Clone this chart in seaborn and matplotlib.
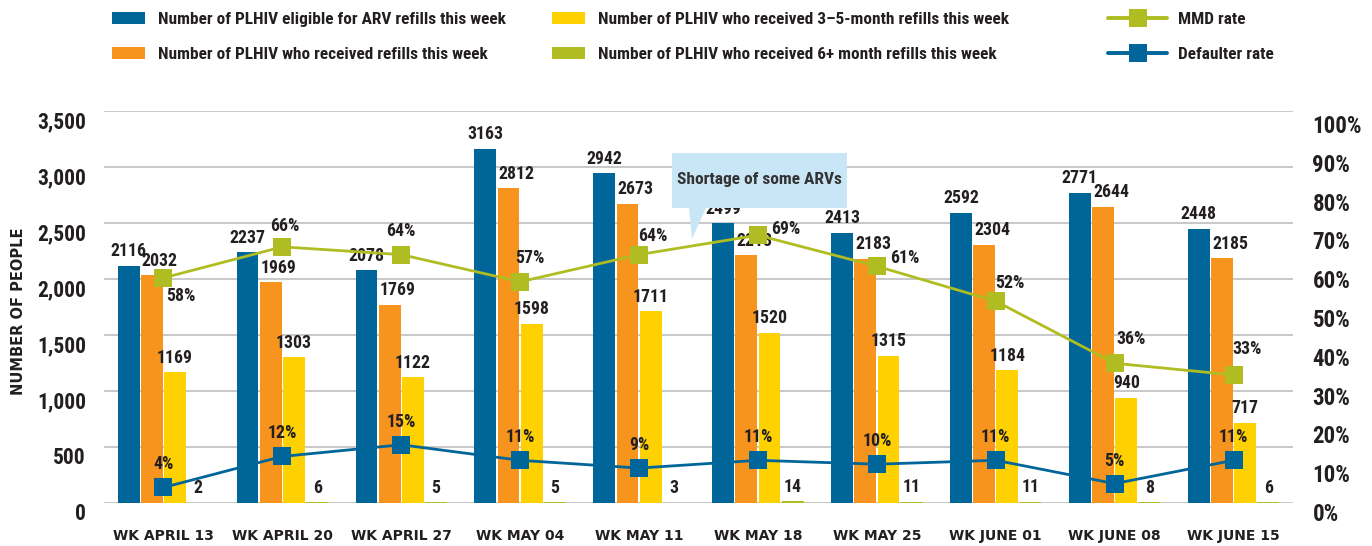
import numpy as np
import pandas as pd
import matplotlib
matplotlib.use("Agg")
import matplotlib.pyplot as plt
import seaborn as sns
from matplotlib import font_manager as fm
from matplotlib.patches import Patch, Polygon
from matplotlib.lines import Line2D

# ---------------- data ----------------
weeks = ["WK APRIL 13", "WK APRIL 20", "WK APRIL 27", "WK MAY 04", "WK MAY 11",
         "WK MAY 18", "WK MAY 25", "WK JUNE 01", "WK JUNE 08", "WK JUNE 15"]
eligible = [2116, 2237, 2078, 3163, 2942, 2499, 2413, 2592, 2771, 2448]
received = [2032, 1969, 1769, 2812, 2673, 2213, 2183, 2304, 2644, 2185]
refill_3_5 = [1169, 1303, 1122, 1598, 1711, 1520, 1315, 1184, 940, 717]
refill_6p = [2, 6, 5, 5, 3, 14, 11, 11, 8, 6]
mmd_rate = [58, 66, 64, 57, 64, 69, 61, 52, 36, 33]
defaulter_rate = [4, 12, 15, 11, 9, 11, 10, 11, 5, 11]
series_names = ["Number of PLHIV eligible for ARV refills this week",
                "Number of PLHIV who received refills this week",
                "Number of PLHIV who received 3\u20135-month refills this week",
                "Number of PLHIV who received 6+ month refills this week"]
line_names = ["MMD rate", "Defaulter rate"]
left_ticks = [0, 500, 1000, 1500, 2000, 2500, 3000, 3500]
right_ticks = [0, 10, 20, 30, 40, 50, 60, 70, 80, 90, 100]
callout_text = "Shortage of some ARVs"

# ---------------- style ----------------
BLUE = "#006699"
ORANGE = "#F7941D"
YELLOW = "#FFD100"
GREEN = "#AFBD22"
TXT = "#231F20"
GRID = "#C4C4C4"
CALLOUT = "#C9E6F7"

sns.set_style("white")
names = {f.name for f in fm.fontManager.ttflist}
if "Liberation Sans Narrow" in names:
    NARROW, K = "Liberation Sans Narrow", 1.0
elif "Roboto Condensed" in names:
    NARROW, K = "Roboto Condensed", 1.0
else:
    NARROW, K = "Liberation Sans", 0.85
WIDE = "DejaVu Sans"
plt.rcParams["font.family"] = [NARROW, "DejaVu Sans"]

W, H = 1372, 546
fig = plt.figure(figsize=(W / 100, H / 100), dpi=100)
ax = fig.add_axes([104 / W, 43 / H, 1189 / W, 392 / H])

df = pd.DataFrame({
    "week": weeks * 4,
    "series": np.repeat(series_names, len(weeks)),
    "value": eligible + received + refill_3_5 + refill_6p,
})
sns.barplot(data=df, x="week", y="value", hue="series", order=weeks,
            hue_order=series_names, palette=[BLUE, ORANGE, YELLOW, GREEN],
            width=0.78, gap=0.06, saturation=1, linewidth=0, legend=False, ax=ax)

label_dx_px = [0, 8, 0, 0]
for cont, dxp in zip(ax.containers, label_dx_px):
    texts = ax.bar_label(cont, fmt="%d", padding=4, fontsize=12.8 * K, fontweight="bold",
                         color=TXT, family=NARROW)
    for t in texts:
        t.xyann = (dxp * 0.72, t.xyann[1])

ax.set_xlim(-0.5, len(weeks) - 0.5)
ax.set_ylim(0, 3500)
ax.set_yticks(left_ticks)
ax.set_yticklabels([f"{v:,}" for v in left_ticks], fontsize=15.5 * K,
                   fontweight="bold", color=TXT, family=NARROW, va="top")
ax.set_xticks(range(len(weeks)))
ax.set_xticklabels(weeks, fontsize=10, fontweight="bold", color=TXT, family=WIDE)
ax.tick_params(axis="x", length=0, pad=19)
ax.tick_params(axis="y", length=0, pad=13)
ax.set_xlabel("")
ax.set_ylabel("NUMBER OF PEOPLE", fontsize=10.5, fontweight="bold", color=TXT, family=WIDE)
ax.yaxis.set_label_coords(-0.066, 0.49)
ax.set_axisbelow(True)
ax.yaxis.grid(True, color=GRID, linewidth=1.3)
ax.xaxis.grid(False)
for s in ax.spines.values():
    s.set_visible(False)

# ---------------- lines on right axis ----------------
ax2 = ax.twinx()
pos = np.arange(len(weeks))
sns.lineplot(x=pos, y=mmd_rate, ax=ax2, color=GREEN, linewidth=2.0, marker="s",
             markersize=12.5, markeredgewidth=0, zorder=3)
sns.lineplot(x=pos, y=defaulter_rate, ax=ax2, color=BLUE, linewidth=2.0, marker="s",
             markersize=12.5, markeredgewidth=0, zorder=3)
ax2.set_ylim(0.5, 101)
ax2.set_yticks(right_ticks)
ax2.set_yticklabels([f"{v}%" for v in right_ticks], fontsize=16.5 * K,
                    fontweight="bold", color=TXT, family=NARROW, va="top")
ax2.tick_params(axis="y", length=0, pad=14)
ax2.set_ylabel("")
for s in ax2.spines.values():
    s.set_visible(False)
ax2.grid(False)

mmd_label_offsets = [(17, -18), (2, 21), (0, 24), (10, 24), (14, 19),
                     (28, 6), (28, 8), (14, 18), (16, 24), (14, 26)]
for i, v in enumerate(mmd_rate):
    dx, dy = mmd_label_offsets[i]
    ax2.annotate(f"{v}%", (i, v), xytext=(dx * 0.72, dy * 0.72), textcoords="offset points",
                 ha="center", va="center", fontsize=12.8 * K, fontweight="bold", color=TXT,
                 family=NARROW, zorder=4)
for i, v in enumerate(defaulter_rate):
    ax2.annotate(f"{v}%", (i, v), xytext=(0, 23 * 0.72), textcoords="offset points",
                 ha="center", va="center", fontsize=12.8 * K, fontweight="bold", color=TXT,
                 family=NARROW, zorder=4)

# ---------------- callout ----------------
def fp(x, y):
    return (x / W, 1 - y / H)

verts = [fp(672, 153), fp(847, 153), fp(847, 208), fp(706, 208), fp(692, 239),
         fp(689, 208), fp(672, 208)]
fig.add_artist(Polygon(verts, closed=True, transform=fig.transFigure,
                       facecolor=CALLOUT, edgecolor="none", zorder=5))
fig.text(*fp(759, 180), callout_text, ha="center", va="center", fontsize=12.5 * K,
         fontweight="bold", color="#333333", family=NARROW, zorder=6)

# ---------------- legends ----------------
FS = 12.4 * K
fs_px = FS * 100 / 72
leg_kw = dict(loc="upper left", frameon=False, borderpad=0, borderaxespad=0,
              labelspacing=1.15, prop={"family": NARROW, "weight": "bold", "size": FS},
              labelcolor=TXT)
fig.legend([Patch(facecolor=BLUE, edgecolor="none"), Patch(facecolor=ORANGE, edgecolor="none")],
           series_names[:2], bbox_to_anchor=fp(112, 12), handlelength=33 / fs_px,
           handleheight=0.65, handletextpad=13 / fs_px, **leg_kw)
fig.legend([Patch(facecolor=YELLOW, edgecolor="none"), Patch(facecolor=GREEN, edgecolor="none")],
           series_names[2:], bbox_to_anchor=fp(552, 12), handlelength=33 / fs_px,
           handleheight=0.65, handletextpad=13 / fs_px, **leg_kw)
fig.legend([Line2D([0], [0], color=GREEN, lw=2.8, marker="s", markersize=12.5, markeredgewidth=0),
            Line2D([0], [0], color=BLUE, lw=2.8, marker="s", markersize=12.5, markeredgewidth=0)],
           line_names, bbox_to_anchor=fp(1108, 12), handlelength=59 / fs_px,
           handletextpad=11 / fs_px, **leg_kw)

fig.savefig("out.png", dpi=100)
